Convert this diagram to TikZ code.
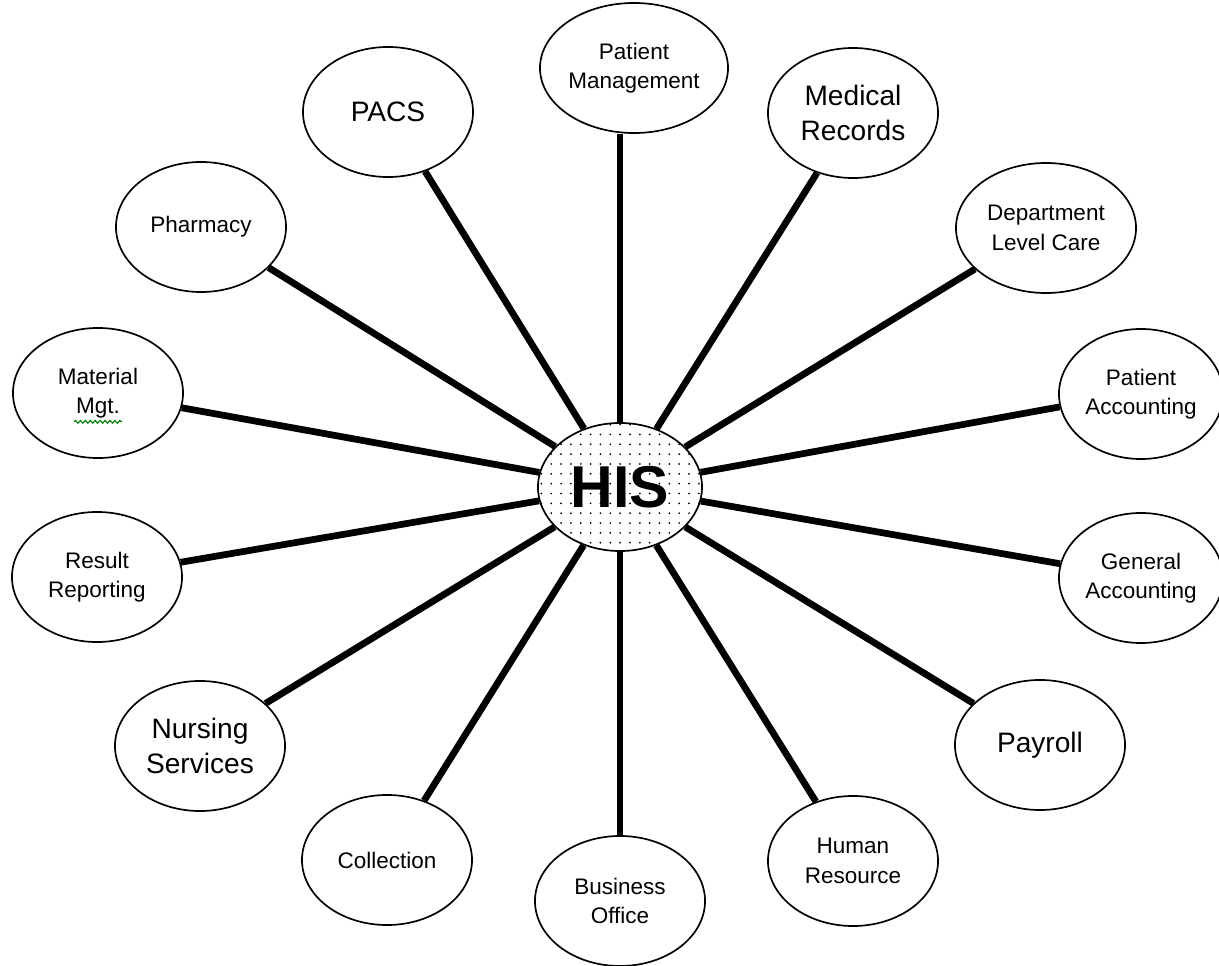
\documentclass[tikz,border=0pt]{standalone}
\usepackage{fontspec}
\setmainfont{Liberation Sans}
\usepackage{tikz}
\usetikzlibrary{shapes.geometric, patterns.meta, decorations.pathmorphing}
\tikzstyle{module} = [ellipse, draw=black, line width=1.2pt, fill=white, minimum width=4.25cm, minimum height=3.25cm, inner sep=0pt, align=center, font=\fontsize{16}{21}\selectfont]
\tikzstyle{bigmodule} = [module, font=\fontsize{20}{25}\selectfont]
\tikzstyle{hub} = [ellipse, draw=black, line width=1.2pt, preaction={fill=white}, pattern={Dots[distance=7pt, radius=0.7pt]}, minimum width=4.1cm, minimum height=3.2cm, inner sep=0pt, font=\fontsize{42}{42}\selectfont\bfseries]
\tikzstyle{spoke} = [line width=4.8pt]
\tikzstyle{spell} = [green!50!black, line width=0.8pt, decorate, decoration={snake, amplitude=1pt, segment length=3.5pt}]

\begin{document}
\begin{tikzpicture}[x=0.025cm, y=-0.025cm]
\useasboundingbox (0,0) rectangle (1219,966);

\node (his) [hub] at (620,487) {HIS};

\node (pm) [module, minimum width=4.7cm] at (634,68) {Patient\\Management};
\node (pacs) [bigmodule] at (388,112) {PACS};
\node (medrec) [bigmodule] at (853,113) {Medical\\Records};
\node (pharm) [module] at (201,227) {Pharmacy};
\node (dept) [module, minimum width=4.5cm] at (1046,228) {Department\\Level Care};
\node (mat) [module] at (98,393) {Material\\Mgt.};
\node (pacct) [module, minimum width=4.1cm] at (1141,394) {Patient\\Accounting};
\node (result) [module] at (97,577) {Result\\Reporting};
\node (gacct) [module, minimum width=4.1cm] at (1141,578) {General\\Accounting};
\node (nurse) [bigmodule] at (200,746) {Nursing\\Services};
\node (payroll) [bigmodule] at (1040,745) {Payroll};
\node (coll) [module] at (387,860) {Collection};
\node (bus) [module] at (620,901) {Business\\Office};
\node (hr) [module] at (853,861) {Human\\Resource};

\draw [spoke] (his |- pm.south) -- (his);
\draw [spoke] (pacs.302) -- (his);
\draw [spoke] (medrec.239) -- (his);
\draw [spoke] (pharm.329) -- (his);
\draw [spoke] (dept.210) -- (his);
\draw [spoke] (mat.350) -- (his);
\draw [spoke] (pacct.189) -- (his);
\draw [spoke] (result.10) -- (his);
\draw [spoke] (gacct.170) -- (his);
\draw [spoke] (nurse.33) -- (his);
\draw [spoke] (payroll.148) -- (his);
\draw [spoke] (coll.58) -- (his);
\draw [spoke] (bus.90) -- (his);
\draw [spoke] (hr.122) -- (his);

% spell check squiggle under Mgt.
\draw [spell] ([xshift=-0.6cm, yshift=-0.72cm]mat.center) -- ([xshift=0.6cm, yshift=-0.72cm]mat.center);
\end{tikzpicture}
\end{document}
